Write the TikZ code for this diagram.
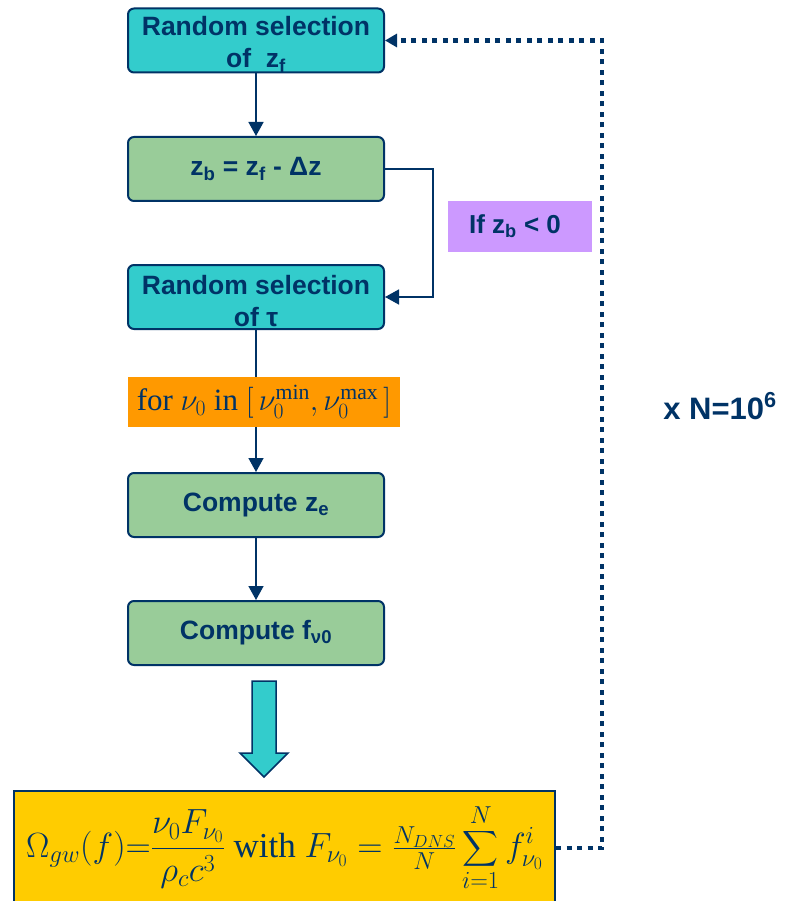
\documentclass[tikz,border=0pt]{standalone}
\usepackage{fix-cm}
\usepackage{exscale}
\usepackage{fontspec}
\setmainfont{Liberation Serif}
\newfontfamily\arialfont{Liberation Sans}
\usetikzlibrary{arrows.meta}

\definecolor{navy}{HTML}{003366}
\definecolor{boxcyan}{HTML}{33CCCC}
\definecolor{boxgreen}{HTML}{99CC99}
\definecolor{boxorange}{HTML}{FF9900}
\definecolor{boxpurple}{HTML}{CC99FF}
\definecolor{boxyellow}{HTML}{FFCC00}

\tikzset{
    flowbox/.style={draw=navy,line width=2pt,rounded corners=6pt,minimum width=256pt,minimum height=64pt,
        inner sep=0pt,align=center,text=navy,font=\arialfont\bfseries\fontsize{26.5}{32}\selectfont},
    pickbox/.style={flowbox,fill=boxcyan},
    calcbox/.style={flowbox,fill=boxgreen},
    flow/.style={draw=navy,line width=1.5pt,-{Triangle[width=15pt,length=14pt]}},
    repeatline/.style={draw=navy,line width=4.5pt,dash pattern=on 5pt off 5.5pt,-{Triangle[width=13pt,length=12pt]}},
}

\begin{document}
\begin{tikzpicture}[x=1pt,y=-1pt]
    \pgfmathsetmacro{\colx}{256}
    \pgfmathsetmacro{\loopx}{602}
    \useasboundingbox (0,0) rectangle (786,901);
    % main column
    \node[pickbox] (zf) at (\colx,40.5) {\rule{0pt}{27pt}Random selection\\of\ \ z\textsubscript{f}};
    \node[calcbox] (zb) at (\colx,169) {z\textsubscript{b} = z\textsubscript{f} - Δz};
    \node[pickbox] (tau) at (\colx,297) {\rule{0pt}{27pt}Random selection\\of τ};
    \node[fill=boxorange,minimum width=272pt,minimum height=50pt,inner sep=0pt,text=navy,
        font=\fontsize{31}{36}\selectfont] (freq) at (264,402)
        {for \(\nu_0\) in \([\,\nu_0^{\min},\nu_0^{\max}\,]\)};
    \node[calcbox] (ze) at (\colx,505) {Compute z\textsubscript{e}};
    \node[calcbox] (fnu) at (\colx,633) {Compute f\textsubscript{ν0}};
    \node[draw=navy,line width=2pt,fill=boxyellow,minimum width=541pt,minimum height=114pt,inner sep=0pt,
        text=navy,font=\fontsize{35}{40}\selectfont] (omega) at (284.5,848)
        {\(\displaystyle\Omega_{gw}(f){=}\frac{\nu_0F_{\nu_0}}{\rho_c c^3}\) with
         \(\displaystyle F_{\nu_0}={\textstyle\frac{N_{DNS}}{N}}\sum_{i=1}^{N}f_{\nu_0}^{i}\)};
    % side labels
    \node[fill=boxpurple,minimum width=144pt,minimum height=51pt,inner sep=0pt,text=navy,
        font=\arialfont\bfseries\fontsize{26}{32}\selectfont] (cond) at (520,226.5)
        {If z\textsubscript{b} < 0\hspace*{10pt}};
    \node[text=navy,font=\arialfont\bfseries\fontsize{31}{36}\selectfont] (count) at (720,406) {x N=10\textsuperscript{6}};
    % connectors
    \draw[flow] (zf) -- (zb);
    \draw[flow] (zb.east) -- ++(48,0) |- (tau.east);
    \draw[navy,line width=1.5pt] (tau) -- (tau |- freq.north);
    \draw[flow] (freq.south -| ze) -- (ze);
    \draw[flow] (ze) -- (fnu);
    \draw[repeatline] (omega.east) -- (\loopx,848) |- (zf.east);
    % block arrow
    \draw[navy,line width=1.5pt,fill=boxcyan] (252,681) -- (276,681) -- (276,753) -- (288,753) -- (264,777)
        -- (240,753) -- (252,753) -- cycle;
\end{tikzpicture}
\end{document}
